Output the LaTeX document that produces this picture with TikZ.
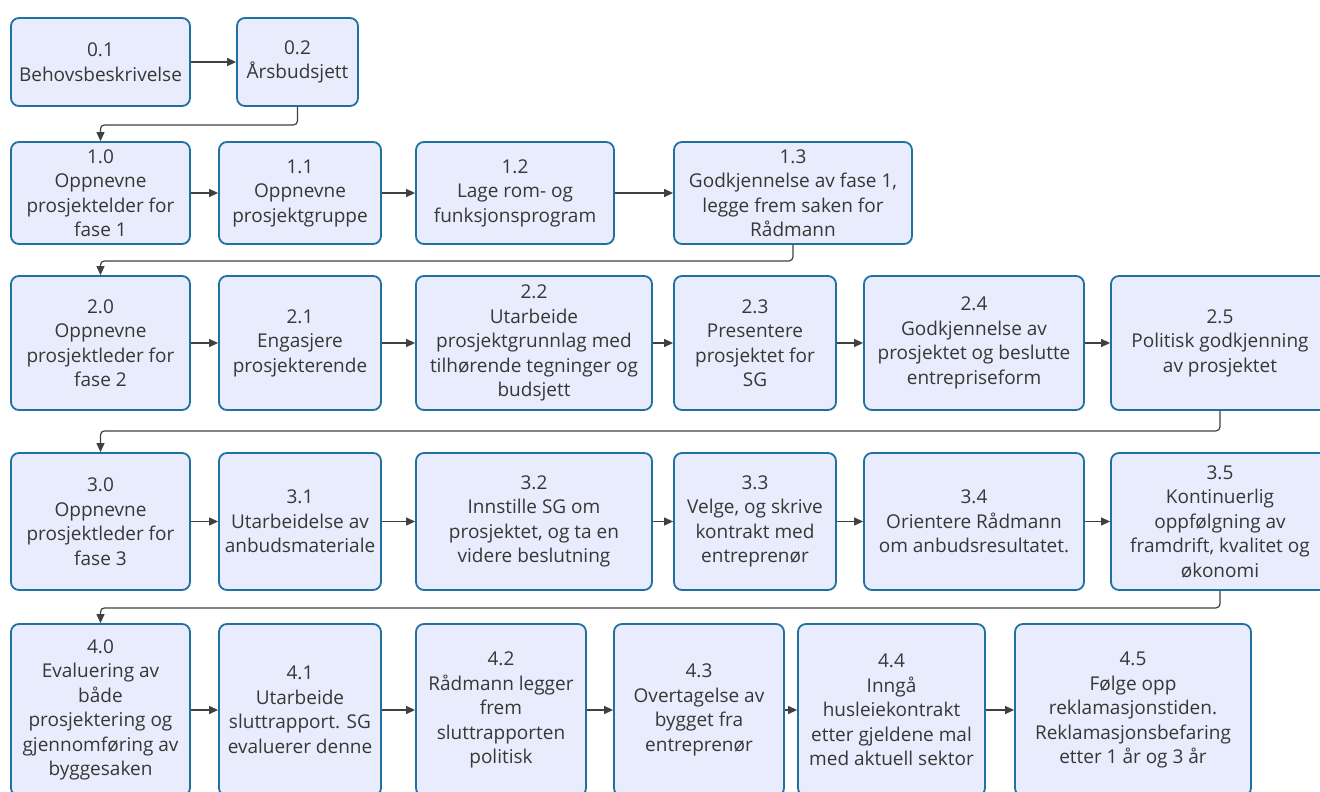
\documentclass[tikz,border=0pt]{standalone}
\usepackage{fontspec}
\setmainfont{Open Sans}
\usetikzlibrary{arrows.meta}
\definecolor{boxfill}{RGB}{232,236,252}
\definecolor{boxline}{RGB}{33,113,160}
\definecolor{boxtext}{RGB}{55,55,55}
\tikzstyle{task} = [rectangle, draw=boxline, fill=boxfill, line width=1.8pt,
  rounded corners=8pt, align=center, text=boxtext, inner sep=0pt,
  font=\fontsize{19}{24.5}\selectfont]
\tikzstyle{line} = [draw, -{Triangle[length=9pt,width=8pt]}, line width=1.2pt, black!75]
\tikzstyle{elbow} = [line, rounded corners=4pt]
\begin{document}
\begin{tikzpicture}[x=1pt, y=-1pt]
  \useasboundingbox (0,0) rectangle (1320,792);

  %
  % Fase 0
  %
  \tikzstyle{row0} = [task, minimum height=88]
  \node [row0, minimum width=179] (b01) at (100.5,62) {0.1\\Behovsbeskrivelse};
  \node [row0, minimum width=121] (b02) at (297.5,62) {0.2\\Årsbudsjett};

  %
  % Fase 1
  %
  \tikzstyle{row1} = [task, minimum height=102]
  \node [row1, minimum width=179] (b10) at (100.5,193) {1.0\\Oppnevne\\prosjektelder for\\fase 1};
  \node [row1, minimum width=162] (b11) at (300,193) {1.1\\Oppnevne\\prosjektgruppe};
  \node [row1, minimum width=198] (b12) at (515,193) {1.2\\Lage rom- og\\funksjonsprogram};
  \node [row1, minimum width=238] (b13) at (793,193) {1.3\\Godkjennelse av fase 1,\\legge frem saken for\\Rådmann};

  %
  % Fase 2
  %
  \tikzstyle{row2} = [task, minimum height=134]
  \node [row2, minimum width=179] (b20) at (100.5,343) {2.0\\Oppnevne\\prosjektleder for\\fase 2};
  \node [row2, minimum width=162] (b21) at (300,343) {2.1\\Engasjere\\prosjekterende};
  \node [row2, minimum width=236] (b22) at (534,343) {2.2\\Utarbeide\\prosjektgrunnlag med\\tilhørende tegninger og\\budsjett};
  \node [row2, minimum width=162] (b23) at (755,343) {2.3\\Presentere\\prosjektet for\\SG};
  \node [row2, minimum width=220] (b24) at (974,343) {2.4\\Godkjennelse av\\prosjektet og beslutte\\entrepriseform};
  \node [row2, minimum width=218] (b25) at (1220,343) {2.5\\Politisk godkjenning\\av prosjektet};

  %
  % Fase 3
  %
  \tikzstyle{row3} = [task, minimum height=137]
  \node [row3, minimum width=179] (b30) at (100.5,521.5) {3.0\\Oppnevne\\prosjektleder for\\fase 3};
  \node [row3, minimum width=162] (b31) at (300,521.5) {3.1\\Utarbeidelse av\\anbudsmateriale};
  \node [row3, minimum width=236] (b32) at (534,521.5) {3.2\\Innstille SG om\\prosjektet, og ta en\\videre beslutning};
  \node [row3, minimum width=162] (b33) at (755,521.5) {3.3\\Velge, og skrive\\kontrakt med\\entreprenør};
  \node [row3, minimum width=220] (b34) at (974,521.5) {3.4\\Orientere Rådmann\\om anbudsresultatet.};
  \node [row3, minimum width=218] (b35) at (1220,521.5) {3.5\\Kontinuerlig\\oppfølgning av\\framdrift, kvalitet og\\økonomi};

  %
  % Fase 4
  %
  \tikzstyle{row4} = [task, minimum height=172]
  \node [row4, minimum width=179] (b40) at (100.5,710) {4.0\\Evaluering av\\både\\prosjektering og\\gjennomføring av\\byggesaken};
  \node [row4, minimum width=162] (b41) at (300,710) {4.1\\Utarbeide\\sluttrapport. SG\\evaluerer denne};
  \node [row4, minimum width=170] (b42) at (501,710) {4.2\\Rådmann legger\\frem\\sluttrapporten\\politisk};
  \node [row4, minimum width=170] (b43) at (699,710) {4.3\\Overtagelse av\\bygget fra\\entreprenør};
  \node [row4, minimum width=187] (b44) at (891.5,710) {4.4\\Inngå\\husleiekontrakt\\etter gjeldene mal\\med aktuell sektor};
  \node [row4, minimum width=236] (b45) at (1133,710) {4.5\\Følge opp\\reklamasjonstiden.\\Reklamasjonsbefaring\\etter 1 år og 3 år};

  % within each phase
  \path [line] (b01) -- (b02);
  \path [line] (b10) -- (b11);
  \path [line] (b11) -- (b12);
  \path [line] (b12) -- (b13);
  \path [line] (b20) -- (b21);
  \path [line] (b21) -- (b22);
  \path [line] (b22) -- (b23);
  \path [line] (b23) -- (b24);
  \path [line] (b24) -- (b25);
  \path [line] (b30) -- (b31);
  \path [line] (b31) -- (b32);
  \path [line] (b32) -- (b33);
  \path [line] (b33) -- (b34);
  \path [line] (b34) -- (b35);
  \path [line] (b40) -- (b41);
  \path [line] (b41) -- (b42);
  \path [line] (b42) -- (b43);
  \path [line] (b43) -- (b44);
  \path [line] (b44) -- (b45);

  % next phase
  \path [elbow] (b02.south) -- ++(0,18) -| (b10.north);
  \path [elbow] (b13.south) -- ++(0,16) -| (b20.north);
  \path [elbow] (b25.south) -- ++(0,20) -| (b30.north);
  \path [elbow] (b35.south) -- ++(0,17) -| (b40.north);

\end{tikzpicture}
\end{document}
